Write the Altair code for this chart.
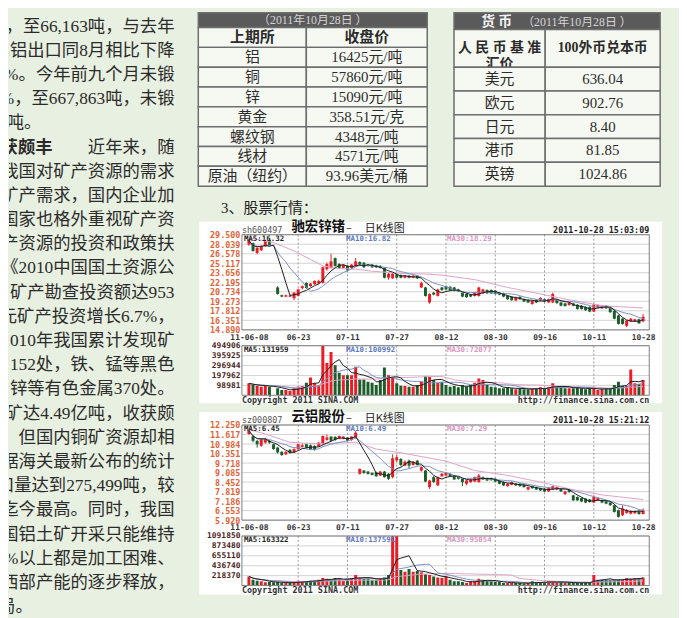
import altair as alt
import pandas as pd

# ---------------- colours / fonts ----------------
BG = "#e8f0e1"
TXT = "#2b2b2b"
FONT = "Liberation Serif, Noto Sans CJK SC"
CJK = "Noto Sans CJK SC"
MONO = "DejaVu Sans Mono"
RED = "#ec1c24"
GREEN = "#1b5e2b"
MA5C = "#1e1e1e"
MA10C = "#7b8fc4"
MA30C = "#e2a2c6"
ORANGE = "#e4643a"
HDR = "#5a5a5a"
CELL = "#f6f8f2"
BORDER = "#6e6e6e"

# ---------------- left text column ----------------
lines = [
    "，至66,163吨，与去年",
    "轧铝出口同8月相比下降",
    "%。今年前九个月未锻",
    "%，至667,863吨，未锻",
    "7吨。",
    "近年来，随",
    "我国对矿产资源的需求",
    "矿产需求，国内企业加",
    "国家也格外重视矿产资",
    "产资源的投资和政策扶",
    "《2010中国国土资源公",
    "质矿产勘查投资额达953",
    "元矿产投资增长6.7%，",
    "2010年我国累计发现矿",
    "1,152处，铁、锰等黑色",
    "铅锌等有色金属370处。",
    "矿达4.49亿吨，收获颇",
    "但国内铜矿资源却相",
    "据海关最新公布的统计",
    "口量达到275,499吨，较",
    "迄今最高。同时，我国",
    "国铝土矿开采只能维持",
    "0%以上都是加工困难、",
    "西部产能的逐步释放，",
    "局。",
]
para_end_lines = [4, 24]
heading = "获颇丰"
heading_line = 5

# ---------------- tables ----------------
t1_header = "（2011年10月28日 ）"
t1_left = ["上期所", "铝", "铜", "锌", "黄金", "螺纹钢", "线材", "原油（纽约）"]
t1_right = ["收盘价", "16425元/吨", "57860元/吨", "15090元/吨", "358.51元/克",
            "4348元/吨", "4571元/吨", "93.96美元/桶"]
t2_header = ["货 币", "（2011年10月28日 ）"]
t2_head_left = "人 民 币 基 准\n汇价"
t2_head_right = "100外币兑本币"
t2_left = ["美元", "欧元", "日元", "港币", "英镑"]
t2_right = ["636.04", "902.76", "8.40", "81.85", "1024.86"]
section_label = "3、股票行情："

# ---------------- stock 1: 驰宏锌锗 ----------------
s1_open = [27.98, 28.2, 26.7, 27.1, 27.7, 28.7, None, 21.4, 20.2, 20.0, 20.0, 19.75, 20.1, 21.3, 22.1, 21.6, 21.9, 22.0,
           22.1, 24.2, 24.4, 25.9, 25.0, 24.4, 24.7, 24.4, 24.7, 25.3, 25.2, 24.9, 24.9, 24.8, 24.7, 24.4, 22.9, 22.8,
           23.4, 23.3, 22.9, 23.2, 22.9, 23.2, 21.4, 21.4, 19.1, 20.6, 20.1, 21.4, 21.6, 21.5, 21.4, 21.1, 20.6, 20.4,
           20.3, 20.1, 20.1, 20.5, 21.0, 21.0, 20.9, 20.6, 20.5, 20.1, 19.96, 19.4, 19.95, 19.6, 19.45, 18.85, 19.5,
           19.4, 19.6, 19.1, 19.1, 19.5, 19.1, 18.95, 18.7, 18.95, 18.75, 18.6, 18.4, 18.4, 17.7, 18.3, 18.2, 18.6,
           18.3, 17.8, 17.1, 16.6, 15.5, 16.2, 16.2, 16.5, 16.2]
s1_close = [28.6, 27.0, 27.5, 27.7, 28.5, 27.9, None, 20.4, 20.0, 20.2, 20.15, 20.6, 21.1, 21.6, 21.3, 22.0, 22.4, 22.4,
            24.5, 25.0, 25.4, 24.7, 24.4, 24.9, 24.0, 24.9, 25.4, 24.9, 24.5, 24.7, 24.5, 24.5, 24.4, 22.9, 23.5, 23.5,
            22.9, 22.9, 23.2, 22.9, 23.2, 22.8, 22.1, 20.1, 20.4, 20.3, 21.1, 21.0, 21.1, 21.0, 20.9, 20.8, 20.0, 19.9,
            20.0, 20.6, 21.4, 21.1, 20.5, 20.5, 20.4, 20.3, 20.0, 19.6, 19.45, 19.9, 19.6, 19.25, 19.1, 19.35, 19.1,
            19.8, 19.25, 19.6, 20.4, 19.0, 18.6, 18.55, 19.1, 18.6, 18.1, 18.1, 17.9, 17.7, 18.8, 18.7, 18.6, 18.2,
            17.6, 16.6, 15.8, 15.8, 16.3, 16.6, 16.5, 15.9, 16.9]
s1_high = [28.8, 28.3, 27.6, 27.9, 28.7, 28.9, None, 21.6, 20.3, 20.3, 20.3, 20.7, 21.2, 21.7, 22.2, 22.1, 22.5, 22.6,
           24.6, 25.2, 26.56, 26.0, 25.1, 25.0, 24.8, 25.0, 25.9, 25.4, 25.3, 25.0, 25.0, 24.9, 24.8, 24.5, 23.6, 23.6,
           23.5, 23.4, 23.3, 23.3, 23.3, 23.3, 22.3, 21.5, 20.5, 20.7, 21.2, 21.5, 21.7, 21.6, 21.5, 21.2, 20.7, 20.5,
           20.4, 20.7, 21.5, 21.2, 21.1, 21.1, 21.0, 20.7, 20.6, 20.2, 20.05, 20.0, 20.05, 19.7, 19.55, 19.45, 19.6,
           19.9, 19.7, 19.7, 20.6, 19.6, 19.2, 19.05, 19.2, 19.05, 18.85, 18.7, 18.5, 18.5, 18.9, 18.8, 18.7, 18.7,
           18.4, 17.9, 17.2, 16.7, 16.4, 16.7, 16.6, 16.6, 17.3]
s1_low = [27.8, 26.9, 26.5, 27.0, 27.6, 27.8, None, 20.3, 19.9, 19.9, 19.9, 19.45, 20.0, 21.1, 21.2, 21.5, 21.8, 21.9,
          22.0, 24.0, 24.3, 24.6, 24.3, 24.3, 23.9, 24.3, 24.6, 24.8, 24.4, 24.6, 24.4, 24.4, 24.3, 22.8, 22.6, 22.7,
          22.8, 22.8, 22.8, 22.8, 22.8, 22.7, 21.3, 20.0, 18.9, 20.2, 20.0, 20.9, 21.0, 20.9, 20.8, 20.7, 19.9, 19.8,
          19.9, 20.0, 20.0, 20.4, 20.4, 20.4, 20.3, 20.2, 19.9, 19.5, 19.35, 19.3, 19.5, 19.15, 19.0, 18.75, 19.0,
          19.3, 19.15, 19.0, 19.0, 18.9, 18.5, 18.45, 18.6, 18.5, 18.0, 18.0, 17.8, 17.6, 17.6, 18.2, 18.1, 18.1,
          17.5, 16.5, 15.7, 15.7, 15.3, 16.1, 16.1, 15.8, 16.1]
s1_vol = [118800, 102000, 92000, 86000, 92000, 86000, None, 69000, 53000, 53000, 43000, 69000, 86000, 92000,
          125000, 178000, 119000, 102000, 505000, 323000, 432000, 300000, 224000, 201000, 201000, 201000, 284000,
          158000, 158000, 135000, 125000, 102000, 152000, 277000, 201000, 178000, 119000, 96000, 92000, 86000,
          86000, 102000, 135000, 191000, 185000, 152000, 125000, 135000, 102000, 86000, 92000, 79000, 102000,
          86000, 102000, 125000, 168000, 152000, 102000, 86000, 79000, 69000, 69000, 79000, 69000, 59000, 69000,
          59000, 59000, 66000, 69000, 79000, 69000, 79000, 119000, 86000, 86000, 69000, 69000, 69000, 79000,
          69000, 59000, 69000, 69000, 53000, 59000, 69000, 69000, 102000, 135000, 92000, 92000, 257000, 119000,
          112000, 152000]
s1_ma30_idx = [0, 6, 11, 15, 18, 22, 26, 30, 34, 38, 42, 47, 55, 63, 71, 78, 86, 96]
s1_ma30_val = [29.0, 28.3, 27.0, 25.7, 24.7, 24.3, 24.2, 23.9, 23.7, 23.5, 23.5, 23.3, 22.6, 21.4, 20.4, 19.5, 18.6, 18.25]
s1_price_ticks = [14.890, 16.351, 17.812, 19.273, 20.734, 22.195, 23.656, 25.117, 26.578, 28.039, 29.500]
s1_vol_ticks = [98981, 197962, 296944, 395925, 494906]
s1_dates = ["11-06-08", "06-23", "07-11", "07-27", "08-12", "08-30", "09-16", "10-11", "10-28"]
s1_info = {"code": "sh600497", "name": "驰宏锌锗", "stamp": "2011-10-28 15:03:09",
           "ma_p": ["MA5:16.32", "MA10:16.82", "MA30:18.29"],
           "ma_v": ["MA5:131959", "MA10:100992", "MA30:72077"]}

# ---------------- stock 2: 云铝股份 ----------------
s2_open = [11.65, 11.5, 11.19, 10.87, 11.08, 11.19, 10.97, 10.75, 10.47, 10.3, 10.6, 10.43, 10.65, 10.8, 10.97, 10.9,
           10.85, 10.82, 10.97, 11.26, 11.48, 11.46, 11.35, 11.35, 11.42, 11.26, 11.41, 9.0, 9.22, 9.15, 9.06, 9.1,
           8.89, 9.15, 9.0, 8.78, 9.9, 9.99, 9.55, 9.88, 9.59, 9.88, 9.22, 9.22, 8.12, 8.78, 8.23, 8.84, 8.89, 9.0,
           8.89, 8.78, 8.67, 8.34, 8.45, 8.49, 8.45, 8.78, 8.71, 8.71, 8.67, 8.56, 8.45, 8.18, 8.27, 8.34, 8.34,
           8.27, 7.96, 8.18, 8.12, 8.05, 8.01, 7.83, 7.96, 7.96, 8.01, 7.66, 7.96, 7.57, 7.46, 7.39, 7.35, 7.3,
           7.09, 7.24, 7.24, 7.17, 7.09, 6.91, 6.58, 6.25, 6.4, 6.35, 6.38, 6.5, 6.33]
s2_close = [11.85, 11.2, 10.97, 11.3, 11.3, 11.08, 10.65, 10.43, 10.25, 10.47, 10.38, 10.65, 10.97, 10.9, 10.75,
            10.65, 10.6, 11.08, 11.52, 11.42, 11.2, 11.26, 11.52, 11.48, 11.2, 11.48, 11.74, 9.33, 9.06, 9.0, 8.93,
            8.84, 9.15, 8.78, 8.67, 10.03, 10.1, 9.59, 9.81, 9.55, 9.81, 9.59, 9.44, 8.49, 8.56, 8.45, 8.78, 9.0,
            9.06, 8.84, 8.63, 8.67, 8.45, 8.56, 8.63, 8.78, 8.89, 8.63, 8.56, 8.58, 8.49, 8.34, 8.23, 8.34, 8.45,
            8.23, 8.18, 8.12, 8.12, 8.05, 7.96, 7.9, 7.83, 8.05, 8.18, 8.12, 7.83, 7.83, 7.79, 7.24, 7.24, 7.17,
            7.09, 7.13, 7.46, 7.39, 7.09, 7.02, 6.91, 6.47, 6.14, 6.69, 6.6, 6.52, 6.5, 6.33, 6.55]
s2_high = [11.95, 11.55, 11.25, 11.35, 11.4, 11.25, 11.0, 10.8, 10.5, 10.5, 10.65, 10.7, 11.0, 11.0, 11.0, 10.95,
           10.9, 11.1, 11.55, 11.63, 11.5, 11.5, 11.55, 11.5, 11.45, 11.5, 11.85, 9.35, 9.25, 9.2, 9.1, 9.15, 9.2,
           9.2, 9.05, 10.3, 10.25, 10.05, 9.9, 9.95, 9.85, 9.92, 9.5, 9.25, 8.6, 8.85, 8.82, 9.05, 9.1, 9.05, 8.92,
           8.82, 8.7, 8.6, 8.68, 8.82, 9.0, 8.82, 8.75, 8.75, 8.7, 8.6, 8.5, 8.38, 8.5, 8.38, 8.38, 8.3, 8.16,
           8.22, 8.15, 8.08, 8.05, 8.1, 8.22, 8.16, 8.05, 7.88, 8.0, 7.6, 7.5, 7.42, 7.38, 7.33, 7.57, 7.43, 7.28,
           7.2, 7.12, 6.95, 6.62, 6.91, 6.65, 6.58, 6.56, 6.55, 6.7]
s2_low = [11.6, 11.1, 10.75, 10.8, 11.0, 11.0, 10.6, 10.35, 10.2, 10.25, 10.35, 10.4, 10.6, 10.75, 10.7, 10.6,
          10.55, 10.8, 10.95, 11.2, 11.15, 11.2, 11.3, 11.3, 11.15, 11.2, 11.35, 8.95, 9.0, 8.95, 8.9, 8.8, 8.85,
          8.75, 8.6, 8.7, 9.8, 9.5, 9.5, 9.37, 9.55, 9.55, 9.15, 8.45, 8.0, 8.4, 8.2, 8.8, 8.85, 8.8, 8.6, 8.62,
          8.18, 8.24, 8.4, 8.45, 8.42, 8.6, 8.52, 8.55, 8.45, 8.3, 8.2, 8.15, 8.24, 8.2, 8.15, 8.08, 7.9, 8.0,
          7.92, 7.86, 7.8, 7.8, 7.92, 7.92, 7.8, 7.58, 7.75, 7.2, 7.2, 7.12, 7.05, 7.08, 7.05, 7.2, 7.05, 6.98,
          6.88, 6.42, 6.1, 6.2, 6.35, 6.3, 6.33, 6.28, 6.3]
s2_vol = [199000, 128000, 107000, 93000, 71000, 78000, 71000, 78000, 57000, 57000, 57000, 71000, 107000, 93000,
          93000, 107000, 107000, 128000, 164000, 150000, 128000, 164000, 164000, 107000, 150000, 164000, 235000,
          178000, 150000, 150000, 128000, 128000, 164000, 178000, 235000, 1150000, 1120000, 342000, 307000,
          364000, 307000, 321000, 293000, 250000, 235000, 199000, 178000, 164000, 199000, 128000, 93000, 93000,
          78000, 57000, 93000, 93000, 150000, 128000, 107000, 93000, 78000, 78000, 57000, 57000, 57000, 57000,
          57000, 43000, 57000, 93000, 71000, 71000, 71000, 93000, 93000, 71000, 71000, 57000, 71000, 57000,
          57000, 57000, 71000, 57000, 235000, 128000, 128000, 128000, 128000, 128000, 128000, 128000, 164000,
          150000, 164000, 164000, 178000]
s2_ma30_idx = [0, 4, 10, 17, 26, 31, 37, 48, 55, 63, 71, 78, 86, 96]
s2_ma30_val = [11.95, 11.65, 11.1, 11.0, 11.1, 10.65, 10.4, 9.85, 9.22, 8.9, 8.45, 8.0, 7.6, 7.29]
s2_price_ticks = [5.920, 6.553, 7.186, 7.819, 8.452, 9.085, 9.718, 10.351, 10.984, 11.617, 12.250]
s2_vol_ticks = [218370, 436740, 655110, 873480, 1091850]
s2_dates = ["11-06-08", "06-23", "07-11", "07-27", "08-12", "08-30", "09-16", "10-12", "10-28"]
s2_info = {"code": "sz000807", "name": "云铝股份", "stamp": "2011-10-28 15:21:12",
           "ma_p": ["MA5:6.45", "MA10:6.49", "MA30:7.29"],
           "ma_v": ["MA5:163322", "MA10:137591", "MA30:95054"]}


# ---------------- helpers ----------------
def one():
    return pd.DataFrame({"k": [0]})


def label(s, x, y, **kw):
    return alt.Chart(one()).mark_text(text=s, **kw).encode(x=alt.value(x), y=alt.value(y))


# ---------------- text panel ----------------
tdf = pd.DataFrame({"line": list(range(len(lines))), "txt": lines})
tdf["pend"] = tdf["line"].isin(para_end_lines)
ty = alt.Y("line:Q", axis=None,
           scale=alt.Scale(domain=[-0.573, 24.33], reverse=True, nice=False, zero=False))
tstyle = dict(font=FONT, fontSize=17.5, color=TXT, baseline="middle", clip=True)
body_txt = (alt.Chart(tdf).transform_filter("!datum.pend")
            .mark_text(align="right", **tstyle).encode(y=ty, text="txt:N", x=alt.value(167)))
end_txt = (alt.Chart(tdf).transform_filter("datum.pend")
           .mark_text(align="left", **tstyle).encode(y=ty, text="txt:N", x=alt.value(-11)))
head_txt = (alt.Chart(pd.DataFrame({"line": [heading_line], "txt": [heading]}))
            .mark_text(align="right", fontWeight="bold", **tstyle)
            .encode(y=ty, text="txt:N", x=alt.value(44)))
text_panel = alt.layer(body_txt, end_txt, head_txt).properties(width=187, height=608)


# ---------------- tables ----------------
def cells(texts, w, h, bold=(), fill=CELL, color=TXT, size=15, lh=16):
    df = pd.DataFrame({"row": list(range(len(texts))), "txt": texts})
    df["b"] = df["row"].isin(list(bold))
    y = alt.Y("row:O", axis=None, scale=alt.Scale(paddingInner=0, paddingOuter=0))
    rect = (alt.Chart(df).mark_rect(fill=fill, stroke=BORDER, strokeWidth=1.5)
            .encode(y=y, x=alt.value(0), x2=alt.value(w)))
    st = dict(font=FONT, fontSize=size, color=color, baseline="middle", align="center",
              lineBreak="\n", lineHeight=lh)
    tn = (alt.Chart(df).transform_filter("!datum.b").mark_text(**st)
          .encode(y=y, text="txt:N", x=alt.value(w / 2)))
    tb = (alt.Chart(df).transform_filter("datum.b").mark_text(fontWeight="bold", **st)
          .encode(y=y, text="txt:N", x=alt.value(w / 2)))
    return alt.layer(rect, tn, tb).properties(width=w, height=h)


hdr1 = cells([t1_header], 231, 15, fill=HDR, color="#d4d4d4", size=12)
tab1 = alt.vconcat(
    hdr1,
    alt.hconcat(cells(t1_left, 109, 160, bold=[0]), cells(t1_right, 122, 160, bold=[0]),
                spacing=0, bounds="flush"),
    spacing=0, bounds="flush")

hdr2 = alt.layer(
    alt.Chart(one()).mark_rect(fill=HDR, stroke=BORDER, strokeWidth=1.5)
    .encode(x=alt.value(0), x2=alt.value(208), y=alt.value(0), y2=alt.value(17)),
    label(t2_header[0], 43, 9, font=CJK, fontSize=14, fontWeight="bold", color="#f2f2f2",
          align="center", baseline="middle"),
    label(t2_header[1], 124, 9, font=FONT, fontSize=12, color="#d4d4d4",
          align="center", baseline="middle"),
).properties(width=208, height=17)
colA = alt.vconcat(cells([t2_head_left], 92, 38, bold=[0], size=14),
                   cells(t2_left, 92, 120), spacing=0, bounds="flush")
colB = alt.vconcat(cells([t2_head_right], 116, 38, bold=[0], size=14),
                   cells(t2_right, 116, 120), spacing=0, bounds="flush")
tab2 = alt.vconcat(hdr2, alt.hconcat(colA, colB, spacing=92, bounds="flush"),
                   spacing=0, bounds="flush")
tables = alt.hconcat(tab1, tab2, spacing=258, bounds="flush")


# ---------------- stock charts ----------------
def stock(o, c, hi, lo, vol, ma30_i, ma30_v, pticks, vticks, dates, info, box_bottom, top_label=None):
    W, PH, VH = 411, 96, 50
    n = len(c)
    df = pd.DataFrame({"idx": list(range(n)), "open": o, "close": c, "high": hi, "low": lo, "vol": vol})
    df["dir"] = ["up" if (a is not None and b is not None and b >= a) else "down" for a, b in zip(o, c)]
    tick_idx = [12 * i for i in range(len(dates))]
    xs = alt.Scale(domain=[-0.5, 96.3], nice=False, zero=False)
    col = alt.Color("dir:N", scale=alt.Scale(domain=["up", "down"], range=[RED, GREEN]), legend=None)
    label_expr = "[" + ",".join("'%s'" % d for d in dates) + "][round(datum.value / 12)]"
    xax = alt.Axis(values=tick_idx, labelExpr=label_expr, grid=False, ticks=False, tickSize=0, domain=False,
                   labelFont=MONO, labelFontSize=8, labelFontWeight="bold", labelColor="#333333",
                   labelPadding=3.5, labelFlush=False, labelOverlap=False, title=None, zindex=1)
    yp = alt.Scale(domain=[pticks[0], pticks[-1]], nice=False, zero=False)
    yax = alt.Axis(values=pticks, format=".3f", grid=False, ticks=False, tickSize=0, domain=False,
                   labelFont=MONO, labelFontSize=8.5, labelFontWeight="bold", labelColor=ORANGE,
                   labelPadding=2, labelOverlap=False, title=None, zindex=1)
    yv = alt.Scale(domain=[0, vticks[-1]], nice=False, zero=True)
    yvax = alt.Axis(values=vticks, format="d", grid=False, ticks=False, tickSize=0, domain=False,
                    labelFont=MONO, labelFontSize=8, labelFontWeight="bold", labelColor="#4a2520",
                    labelPadding=2, labelOverlap=False, title=None, zindex=1)

    def XP(f):
        return alt.X(f, scale=xs, axis=xax)

    def XV(f):
        return alt.X(f, scale=xs, axis=None)

    def YP(f):
        return alt.Y(f, scale=yp, axis=yax)

    def YV(f):
        return alt.Y(f, scale=yv, axis=yvax)

    sortf = [alt.SortField("idx")]
    white = (alt.Chart(one()).mark_rect(color="white")
             .encode(x=alt.value(-43), x2=alt.value(424), y=alt.value(-13), y2=alt.value(box_bottom)))
    hgrid = (alt.Chart(pd.DataFrame({"v": pticks})).mark_rule(color="#d2d2d2", strokeWidth=1)
             .encode(y=YP("v:Q")))
    vgrid = (alt.Chart(pd.DataFrame({"i": tick_idx[1:-1]}))
             .mark_rule(color="#9a9a9a", strokeDash=[2, 2], strokeWidth=1).encode(x=XP("i:Q")))
    wick = alt.Chart(df).mark_rule(strokeWidth=1).encode(x=XP("idx:Q"), y=YP("low:Q"), y2="high:Q", color=col)
    body = alt.Chart(df).mark_bar(size=3).encode(x=XP("idx:Q"), y=YP("open:Q"), y2="close:Q", color=col)
    ma5 = (alt.Chart(df).transform_window(ma="mean(close)", frame=[-4, 0], sort=sortf)
           .mark_line(color=MA5C, strokeWidth=1).encode(x=XP("idx:Q"), y=YP("ma:Q")))
    ma10 = (alt.Chart(df).transform_window(ma="mean(close)", frame=[-9, 0], sort=sortf)
            .mark_line(color=MA10C, strokeWidth=1).encode(x=XP("idx:Q"), y=YP("ma:Q")))
    ma30 = (alt.Chart(pd.DataFrame({"idx": ma30_i, "ma": ma30_v}))
            .mark_line(color=MA30C, strokeWidth=1).encode(x=XP("idx:Q"), y=YP("ma:Q")))
    border = (alt.Chart(one()).mark_rect(filled=False, color="#7d7d7d", strokeWidth=1)
              .encode(x=alt.value(0), x2=alt.value(W), y=alt.value(0), y2=alt.value(PH)))
    ptexts = [
        label(info["code"], 0, -5, font=MONO, fontSize=8.5, color="#555555", align="left", baseline="middle"),
        label(info["name"], 50, -8, font=CJK, fontSize=13.5, fontWeight="bold", color="#111111",
              align="left", baseline="middle"),
        label("–", 105, -6, font=CJK, fontSize=11, color="#222222", align="left", baseline="middle"),
        label("日K线图", 124, -6, font=CJK, fontSize=11, color="#222222", align="left", baseline="middle"),
        label(info["stamp"], W, -5, font=MONO, fontSize=8.5, fontWeight="bold", color="#222222",
              align="right", baseline="middle"),
        label(info["ma_p"][0], 2, 4.5, font=MONO, fontSize=7.5, fontWeight="bold", color="#222222",
              align="left", baseline="middle"),
        label(info["ma_p"][1], 105, 4.5, font=MONO, fontSize=7.5, fontWeight="bold", color="#5b78c2",
              align="left", baseline="middle"),
        label(info["ma_p"][2], 207, 4.5, font=MONO, fontSize=7.5, fontWeight="bold", color="#dc94c0",
              align="left", baseline="middle"),
    ]
    if top_label:
        ptexts.append(label(top_label, -21, -27, font=FONT, fontSize=15, color="#222222",
                            align="left", baseline="middle"))
    price = alt.layer(white, hgrid, vgrid, wick, body, ma30, ma10, ma5, border, *ptexts).properties(
        width=W, height=PH)

    vh = (alt.Chart(pd.DataFrame({"v": vticks})).mark_rule(color="#d2d2d2", strokeWidth=1)
          .encode(y=YV("v:Q")))
    vv = (alt.Chart(pd.DataFrame({"i": tick_idx[1:-1]}))
          .mark_rule(color="#9a9a9a", strokeDash=[2, 2], strokeWidth=1).encode(x=XV("i:Q")))
    bars = alt.Chart(df).mark_bar(size=3, clip=True).encode(x=XV("idx:Q"), y=YV("vol:Q"), color=col)
    vlines = []
    for fr, cc in ((-29, MA30C), (-9, MA10C), (-4, MA5C)):
        vlines.append(alt.Chart(df).transform_window(ma="mean(vol)", frame=[fr, 0], sort=sortf)
                      .mark_line(color=cc, strokeWidth=1, clip=True).encode(x=XV("idx:Q"), y=YV("ma:Q")))
    vborder = (alt.Chart(one()).mark_rect(filled=False, color="#7d7d7d", strokeWidth=1)
               .encode(x=alt.value(0), x2=alt.value(W), y=alt.value(0), y2=alt.value(VH)))
    vtexts = [
        label(info["ma_v"][0], 2, 4.5, font=MONO, fontSize=7.5, fontWeight="bold", color="#222222",
              align="left", baseline="middle"),
        label(info["ma_v"][1], 105, 4.5, font=MONO, fontSize=7.5, fontWeight="bold", color="#5b78c2",
              align="left", baseline="middle"),
        label(info["ma_v"][2], 207, 4.5, font=MONO, fontSize=7.5, fontWeight="bold", color="#dc94c0",
              align="left", baseline="middle"),
        label("Copyright 2011 SINA.COM", 0, VH + 5, font=MONO, fontSize=8.5, fontWeight="bold",
              color="#333333", align="left", baseline="middle"),
        label("http://finance.sina.com.cn", W, VH + 5, font=MONO, fontSize=8.5, fontWeight="bold",
              color="#333333", align="right", baseline="middle"),
    ]
    volume = alt.layer(vh, vv, bars, *vlines, vborder, *vtexts).properties(width=W, height=VH)
    return alt.vconcat(price, volume, spacing=16, bounds="flush")


stock1 = stock(s1_open, s1_close, s1_high, s1_low, s1_vol, s1_ma30_idx, s1_ma30_val,
               s1_price_ticks, s1_vol_ticks, s1_dates, s1_info, 170, top_label=section_label)
stock2 = stock(s2_open, s2_close, s2_high, s2_low, s2_vol, s2_ma30_idx, s2_ma30_val,
               s2_price_ticks, s2_vol_ticks, s2_dates, s2_info, 171)

stocks = alt.vconcat(stock1, stock2, spacing=192, bounds="flush")
spacer = (alt.Chart(one()).mark_point(opacity=0)
          .encode(x=alt.value(0), y=alt.value(0)).properties(width=44, height=1))
stocks_row = alt.hconcat(spacer, stocks, spacing=0, bounds="flush")
right_col = alt.vconcat(tables, stocks_row, spacing=224, bounds="flush")

chart = (alt.hconcat(text_panel, right_col, spacing=4, bounds="flush")
         .properties(background=BG, padding={"left": 0, "top": 0, "right": 16, "bottom": 0})
         .configure_view(stroke="transparent"))

chart.save("out.html", embed_options={"renderer": "svg", "actions": False})
